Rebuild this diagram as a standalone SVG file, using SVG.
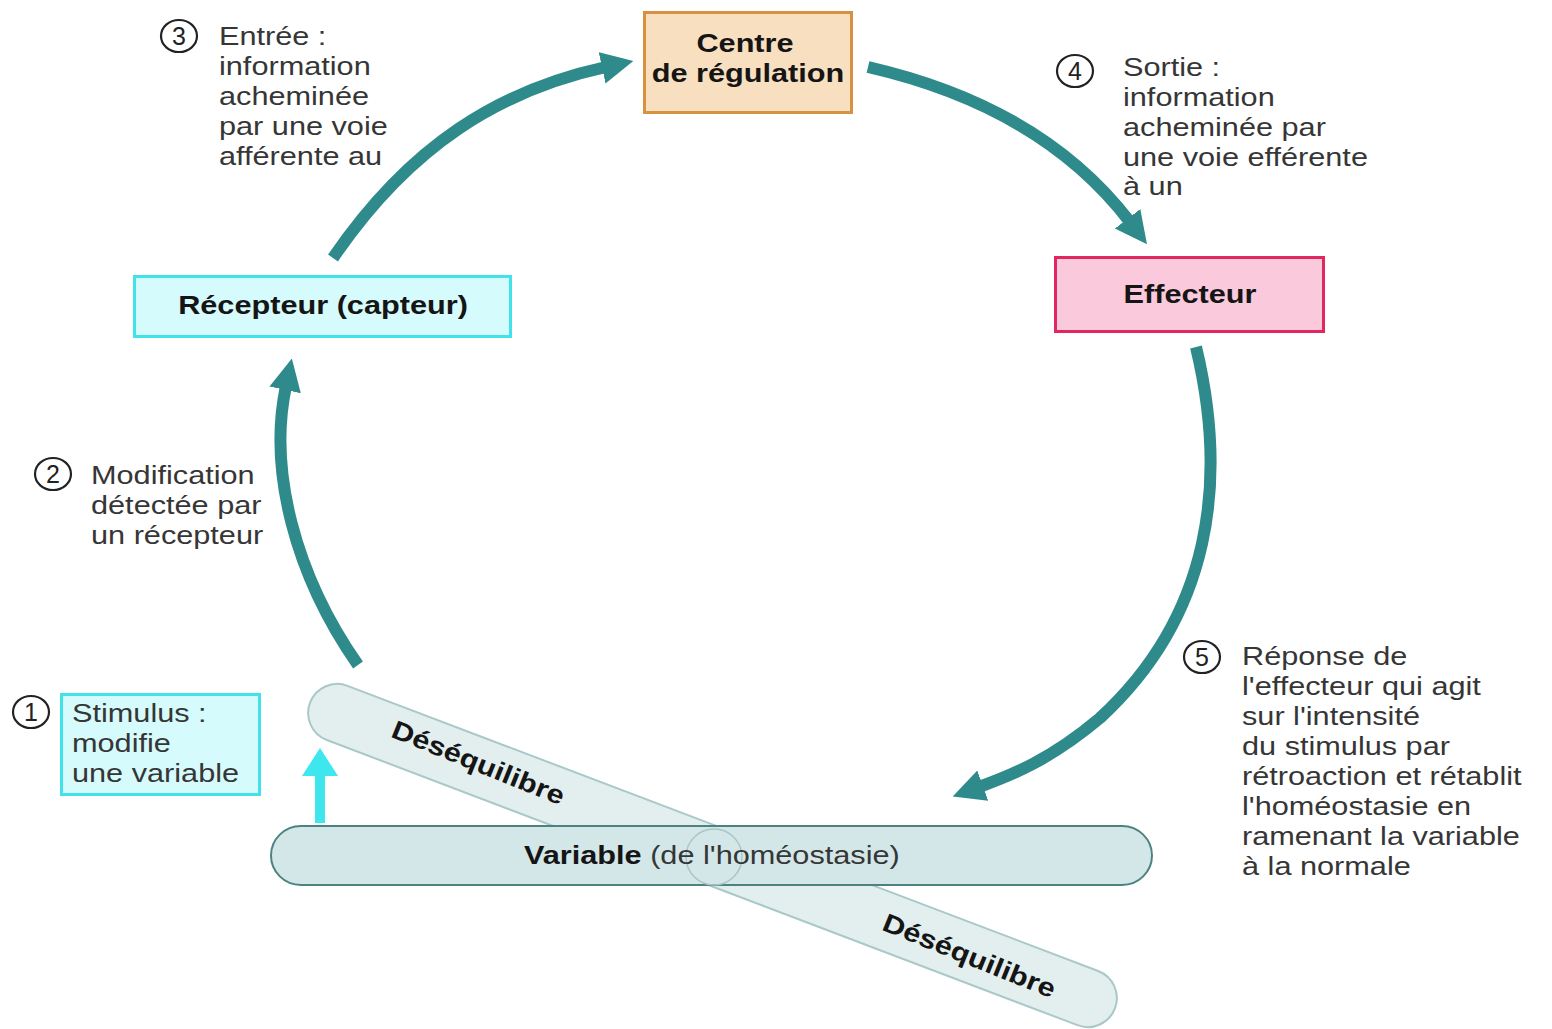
<svg xmlns="http://www.w3.org/2000/svg" width="1552" height="1029" viewBox="0 0 1552 1029">
<defs>
<style>
text{font-family:"Liberation Sans",Arial,sans-serif;font-size:26px;}
.n{fill:#363636;}
.b{font-weight:bold;fill:#151515;}
.c{text-anchor:middle;}
.num{fill:none;stroke:#222;stroke-width:2.2;}
.numt{font-size:25px;fill:#222;text-anchor:middle;}
.arc{fill:none;stroke:#2f8b8b;stroke-width:12;marker-end:url(#ah);}
</style>
<marker id="ah" viewBox="0 0 32 34" refX="4" refY="17" markerWidth="32" markerHeight="34" markerUnits="userSpaceOnUse" orient="auto">
<path d="M0,1 L32,17 L0,33 Z" fill="#2f8b8b"/>
</marker>
</defs>
<rect width="1552" height="1029" fill="#ffffff"/>

<g id="balance">
<rect x="-430.5" y="-29" width="861" height="58" rx="29" fill="#e3efef" stroke="#a9c9c9" stroke-width="2" transform="translate(712.5 855.5) rotate(20.8)"/>
<text class="b" transform="translate(475 771) rotate(22) scale(1.18 1)" text-anchor="middle">Déséquilibre</text>
<text class="b" transform="translate(966 964) rotate(22) scale(1.18 1)" text-anchor="middle">Déséquilibre</text>
</g>

<g id="variable">
<rect x="271" y="826" width="881" height="59" rx="30" fill="#d3e7e8" stroke="#4e8282" stroke-width="2"/>
<circle cx="714" cy="857" r="28" fill="none" stroke="#a9c6c6" stroke-width="1.5"/>
<text transform="translate(524 864) scale(1.18 1)"><tspan class="b">Variable</tspan><tspan class="n"> (de l'homéostasie)</tspan></text>
</g>

<g id="connectors">
<path class="arc" d="M358,665 C295,575 268,470 286,386"/>
<path class="arc" d="M333,258 C410,145 500,90 606,67"/>
<path class="arc" d="M868,67 C990,95 1075,150 1130,222"/>
<path class="arc" d="M1196,347 C1228,480 1212,615 1100,718 C1050,760 1012,775 979,787"/>
<path id="stimarrow" d="M315,823 L315,776 L302,776 L320,748 L338,776 L325,776 L325,823 Z" fill="#3ee6ee"/>
</g>

<g id="centre">
<rect x="644.5" y="12.5" width="207" height="100" fill="#f8dfbf" stroke="#d8913e" stroke-width="3"/>
<text class="b c" transform="translate(745 52) scale(1.18 1)">Centre</text>
<text class="b c" transform="translate(748 82) scale(1.18 1)">de régulation</text>
</g>

<g id="recepteur">
<rect x="134.5" y="276.5" width="376" height="60" fill="#d6fbfc" stroke="#41e2ea" stroke-width="3"/>
<text class="b c" transform="translate(323 314) scale(1.18 1)">Récepteur (capteur)</text>
</g>

<g id="effecteur">
<rect x="1055.5" y="257.5" width="268" height="74" fill="#fbc9dc" stroke="#e2265f" stroke-width="3"/>
<text class="b c" transform="translate(1190 303) scale(1.18 1)">Effecteur</text>
</g>

<g id="stimulus">
<rect x="61.5" y="694.5" width="198" height="100" fill="#d6fbfc" stroke="#41e2ea" stroke-width="3"/>
<g transform="translate(72 0) scale(1.18 1)">
<text class="n" x="0" y="722">Stimulus :</text>
<text class="n" x="0" y="752">modifie</text>
<text class="n" x="0" y="782">une variable</text>
</g>
<ellipse class="num" cx="31" cy="712" rx="18" ry="16"/>
<text class="numt" x="31" y="721">1</text>
</g>

<g id="label2">
<ellipse class="num" cx="53" cy="474" rx="18" ry="16"/>
<text class="numt" x="53" y="483">2</text>
<g transform="translate(91 0) scale(1.18 1)">
<text class="n" x="0" y="484">Modification</text>
<text class="n" x="0" y="514">détectée par</text>
<text class="n" x="0" y="544">un récepteur</text>
</g>
</g>

<g id="label3">
<ellipse class="num" cx="179" cy="36" rx="18" ry="16"/>
<text class="numt" x="179" y="45">3</text>
<g transform="translate(219 0) scale(1.18 1)">
<text class="n" x="0" y="45">Entrée :</text>
<text class="n" x="0" y="75">information</text>
<text class="n" x="0" y="105">acheminée</text>
<text class="n" x="0" y="135">par une voie</text>
<text class="n" x="0" y="165">afférente au</text>
</g>
</g>

<g id="label4">
<ellipse class="num" cx="1075" cy="71" rx="18" ry="16"/>
<text class="numt" x="1075" y="80">4</text>
<g transform="translate(1123 0) scale(1.18 1)">
<text class="n" x="0" y="76">Sortie :</text>
<text class="n" x="0" y="106">information</text>
<text class="n" x="0" y="136">acheminée par</text>
<text class="n" x="0" y="166">une voie efférente</text>
<text class="n" x="0" y="195">à un</text>
</g>
</g>

<g id="label5">
<ellipse class="num" cx="1202" cy="657" rx="18" ry="16"/>
<text class="numt" x="1202" y="666">5</text>
<g transform="translate(1242 0) scale(1.18 1)">
<text class="n" x="0" y="665">Réponse de</text>
<text class="n" x="0" y="695">l'effecteur qui agit</text>
<text class="n" x="0" y="725">sur l'intensité</text>
<text class="n" x="0" y="755">du stimulus par</text>
<text class="n" x="0" y="785">rétroaction et rétablit</text>
<text class="n" x="0" y="815">l'homéostasie en</text>
<text class="n" x="0" y="845">ramenant la variable</text>
<text class="n" x="0" y="875">à la normale</text>
</g>
</g>
</svg>
